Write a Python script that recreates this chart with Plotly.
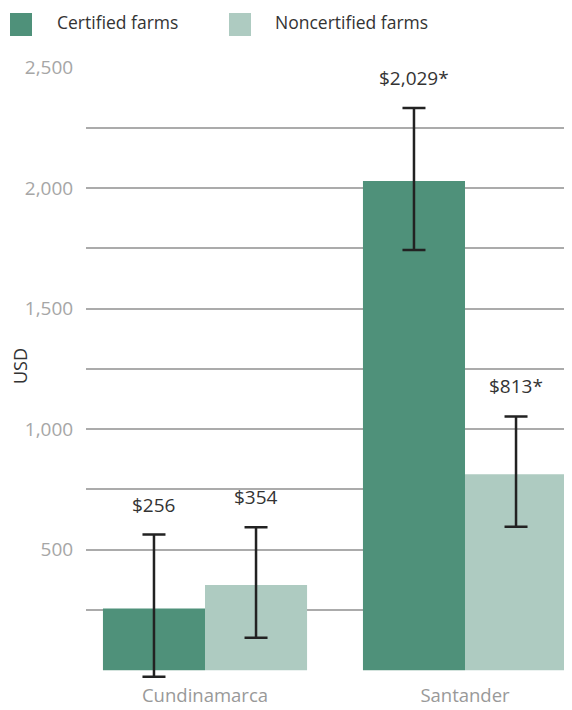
import plotly.graph_objects as go

regions = ["Cundinamarca", "Santander"]
certified = [256, 2029]
certified_low = [-27, 1743]
certified_high = [563, 2332]
noncertified = [354, 813]
noncertified_low = [135, 595]
noncertified_high = [593, 1053]
certified_labels = ["$256", "$2,029*"]
noncertified_labels = ["$354", "$813*"]
series_names = ["Certified farms", "Noncertified farms"]
y_tickvals = [250, 500, 750, 1000, 1250, 1500, 1750, 2000, 2250, 2500]
y_ticktext = ["", "500", "", "1,000", "", "1,500", "", "2,000", "", "2,500"]

C_DARK = "#4F917A"
C_LIGHT = "#AECBC1"
FONT = "Open Sans"

fig = go.Figure()
for name, vals, lo, hi, col, off in [
    (series_names[0], certified, certified_low, certified_high, C_DARK, 0),
    (series_names[1], noncertified, noncertified_low, noncertified_high, C_LIGHT, 1),
]:
    fig.add_trace(go.Bar(
        x=regions, y=vals, name=name, marker=dict(color=col, line=dict(width=0)),
        offsetgroup=str(off),
        error_y=dict(type="data", symmetric=False,
                     array=[h - v for h, v in zip(hi, vals)],
                     arrayminus=[v - l for v, l in zip(vals, lo)],
                     color="#222222", thickness=2.5, width=11.5),
        cliponaxis=False,
        showlegend=False,
    ))

# value labels above error bars
bar_unit = 0.785 / 2
for i, r in enumerate(regions):
    for j, (hi, lab) in enumerate([(certified_high[i], certified_labels[i]),
                                   (noncertified_high[i], noncertified_labels[i])]):
        fig.add_annotation(x=i + (j - 0.5) * bar_unit, y=hi, xref="x", yref="y",
                           text=lab, showarrow=False, yanchor="middle", yshift=30,
                           font=dict(family=FONT, size=19, color="#333333"))

# page offset of 8px (body margin) is compensated in the figure size
W, H = 564, 702
ml, mr, mt, mb = 78, 0, 59, 30
pw, ph = W - ml - mr, H - mt - mb
legend_items = [(series_names[0], C_DARK, 2, 47), (series_names[1], C_LIGHT, 221, 265)]
for name, col, sx, tx in legend_items:
    fig.add_shape(type="rect", xref="paper", yref="paper",
                  x0=(sx - ml) / pw, x1=(sx + 22 - ml) / pw,
                  y0=(H - mb - 28) / ph, y1=(H - mb - 5) / ph,
                  fillcolor=col, line=dict(width=0))
    fig.add_annotation(xref="paper", yref="paper", x=(tx - ml) / pw, y=(H - mb - 14) / ph,
                       xanchor="left", yanchor="middle", showarrow=False, text=name,
                       font=dict(family=FONT, size=17.5, color="#333333"))

fig.add_annotation(xref="paper", yref="paper", x=(12 - ml) / pw, y=(H - mb - 358) / ph,
                   text="USD", textangle=-90, showarrow=False, xanchor="center", yanchor="middle",
                   font=dict(family=FONT, size=18, color="#333333"))

fig.update_layout(
    width=W, height=H, margin=dict(l=ml, r=mr, t=mt, b=mb),
    paper_bgcolor="white", plot_bgcolor="white",
    barmode="group", bargap=0.215, bargroupgap=0,
    font=dict(family=FONT),
    xaxis=dict(range=[-0.4577, 1.4115], showgrid=False, showline=False, zeroline=False,
               tickfont=dict(family=FONT, size=18.5, color="#999999"), ticks="",
               ticklabelstandoff=2, automargin=False),
    yaxis=dict(range=[-40, 2502], tickvals=y_tickvals, ticktext=y_ticktext,
               showgrid=True, gridcolor="#ABABAB", gridwidth=1.5, zeroline=False, showline=False,
               tickfont=dict(family=FONT, size=19, color="#A6A6A6"),
               ticks="outside", ticklen=8, tickcolor="rgba(0,0,0,0)", automargin=False),
)

fig.write_html("out.html")
